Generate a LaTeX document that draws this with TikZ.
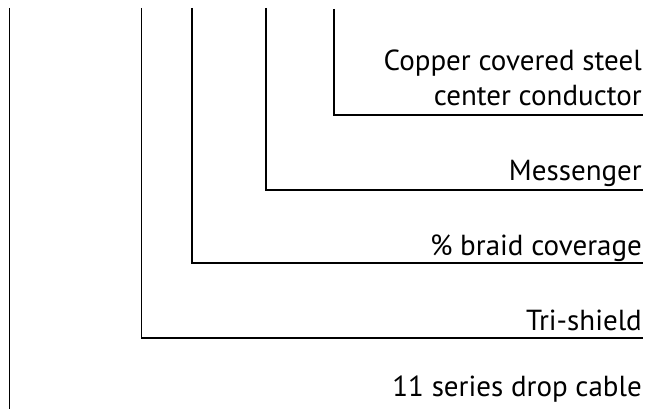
\documentclass[tikz,border=0pt]{standalone}
\usepackage{fontspec}
\setmainfont{PT Sans}

\begin{document}
\begin{tikzpicture}[x=1pt,y=-1pt,
  lead/.style={line width=1.8pt},
  partname/.style={anchor=base east,inner sep=0pt,align=right,
    font=\fontsize{29}{35}\selectfont}]
\useasboundingbox (0,0) rectangle (659,409);
% labels, right aligned
\node[partname] (cond) at (642,106) {Copper covered steel\\center conductor};
\node[partname] (mess) at (642,181) {Messenger};
\node[partname] (braid) at (642,255) {\% braid coverage};
\node[partname] (tri) at (642,330) {Tri-shield};
\node[partname] (drop) at (642,396) {11 series drop cable};
% lead lines
\coordinate (cond top) at (334,9);
\coordinate (cond end) at (643,115);
\coordinate (mess top) at (266,8);
\coordinate (mess end) at (643,190);
\coordinate (braid top) at (192,8);
\coordinate (braid end) at (643,263);
\coordinate (tri top) at (141.5,8);
\coordinate (tri end) at (643,338);
\coordinate (drop top) at (9.5,8);
\coordinate (drop end) at (9.5,409);
\draw[lead] (cond top) |- (cond end);
\draw[lead] (mess top) |- (mess end);
\draw[lead] (braid top) |- (braid end);
\draw[lead] (tri top) |- (tri end);
\draw[lead] (drop top) -- (drop end);
\end{tikzpicture}
\end{document}
